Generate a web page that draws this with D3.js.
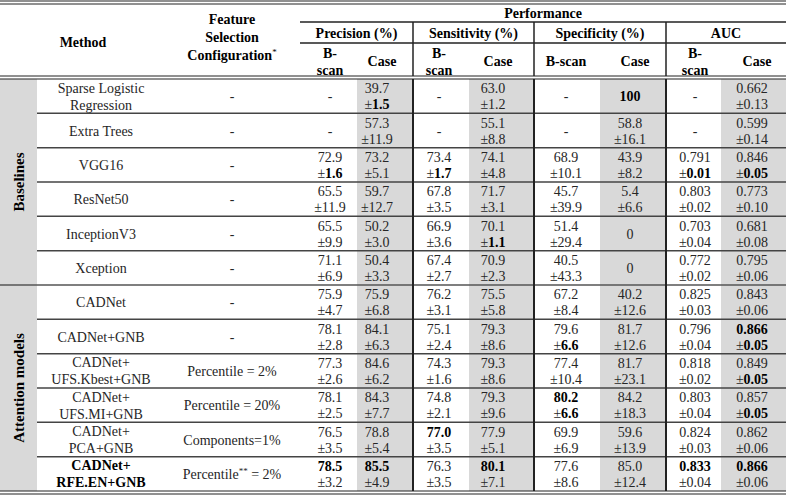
<!DOCTYPE html>
<html><head><meta charset="utf-8">
<script src="https://cdn.jsdelivr.net/npm/d3@7"></script>
<style>
body{margin:0;background:#fff}
svg{display:block}
svg text{font-family:'Liberation Serif','Tinos','DejaVu Serif','Noto Serif',serif;font-size:14px;fill:#262626}
svg text.b, svg tspan.b{font-weight:bold;fill:#000}
</style>
</head><body>
<svg id="c" width="786" height="495" font-family="Liberation Serif, DejaVu Serif, serif"></svg>
<script>
// ---------------- data ----------------
const methods = ["Sparse Logistic\nRegression","Extra Trees","VGG16","ResNet50","InceptionV3","Xception",
  "CADNet","CADNet+GNB","CADNet+\nUFS.Kbest+GNB","CADNet+\nUFS.MI+GNB","CADNet+\nPCA+GNB","CADNet+\nRFE.EN+GNB"];
const groupNames = ["Baselines","Attention models"];
const groupRows = [[0,5],[6,11]];
const featureConfig = ["-","-","-","-","-","-","-","-","Percentile = 2%","Percentile = 20%","Components=1%","Percentile** = 2%"];
const metricNames = ["Precision (%)","Sensitivity (%)","Specificity (%)","AUC"];
const subHeaders = ["B-\nscan","Case","B-\nscan","Case","B-scan","Case","B-\nscan","Case"];

const precB = [["-"],["-"],["72.9","1.6"],["65.5","11.9"],["65.5","9.9"],["71.1","6.9"],["75.9","4.7"],["78.1","2.8"],["77.3","2.6"],["78.1","2.5"],["76.5","3.5"],["78.5","3.2"]];
const precC = [["39.7","1.5"],["57.3","11.9"],["73.2","5.1"],["59.7","12.7"],["50.2","3.0"],["50.4","3.3"],["75.9","6.8"],["84.1","6.3"],["84.6","6.2"],["84.3","7.7"],["78.8","5.4"],["85.5","4.9"]];
const sensB = [["-"],["-"],["73.4","1.7"],["67.8","3.5"],["66.9","3.6"],["67.4","2.7"],["76.2","3.1"],["75.1","2.4"],["74.3","1.6"],["74.8","2.1"],["77.0","3.5"],["76.3","3.5"]];
const sensC = [["63.0","1.2"],["55.1","8.8"],["74.1","4.8"],["71.7","3.1"],["70.1","1.1"],["70.9","2.3"],["75.5","5.8"],["79.3","8.6"],["79.3","8.6"],["79.3","9.6"],["77.9","5.1"],["80.1","7.1"]];
const specB = [["-"],["-"],["68.9","10.1"],["45.7","39.9"],["51.4","29.4"],["40.5","43.3"],["67.2","8.4"],["79.6","6.6"],["77.4","10.4"],["80.2","6.6"],["69.9","6.9"],["77.6","8.6"]];
const specC = [["100"],["58.8","16.1"],["43.9","8.2"],["5.4","6.6"],["0"],["0"],["40.2","12.6"],["81.7","12.6"],["81.7","23.1"],["84.2","18.3"],["59.6","13.9"],["85.0","12.4"]];
const aucB = [["-"],["-"],["0.791","0.01"],["0.803","0.02"],["0.703","0.04"],["0.772","0.02"],["0.825","0.03"],["0.796","0.04"],["0.818","0.02"],["0.803","0.04"],["0.824","0.03"],["0.833","0.04"]];
const aucC = [["0.662","0.13"],["0.599","0.14"],["0.846","0.05"],["0.773","0.10"],["0.681","0.08"],["0.795","0.06"],["0.843","0.06"],["0.866","0.05"],["0.849","0.05"],["0.857","0.05"],["0.862","0.06"],["0.866","0.06"]];
// bold marks: column:row:part (m = mean, s = sd)
const boldMarks = ["precC:0:s","precB:2:s","precB:11:m","precC:11:m",
  "sensB:2:s","sensC:4:s","sensB:10:m","sensC:11:m",
  "specC:0:m","specB:7:s","specB:9:m","specB:9:s",
  "aucB:2:s","aucC:2:s","aucC:7:m","aucC:7:s","aucC:8:s","aucC:9:s","aucB:11:m","aucC:11:m"];
const boldMethods = [11];

// ---------------- layout ----------------
const W = 786, H = 495;
const FONT = "'Liberation Serif','Tinos','DejaVu Serif',serif";
const colKeys = ["precB","precC","sensB","sensC","specB","specC","aucB","aucC"];
const colData = {precB,precC,sensB,sensC,specB,specC,aucB,aucC};
const colCenter = d3.scaleOrdinal().domain(colKeys).range([330,377,439,493,566,630,695,752]);
const caseShade = d3.scaleOrdinal().domain(["precC","sensC","specC","aucC"]).range([[357,413],[469,534],[600,666],[721,786]]);
const metricSpan = d3.scaleOrdinal().domain(metricNames).range([[300,413],[413,534],[534,666],[666,786]]);
const y = d3.scaleBand().domain(d3.range(methods.length)).range([79, 491]);
const groupX = [0, 37], methodX = 101, featX = 232;
const bold = new Set(boldMarks);

const svg = d3.select("#c");
const gray = "#d9d9d9";

function T(sel){ return sel.append("text").style("font-family",FONT).style("font-size","14px"); }

// shading
svg.append("rect").attr("x",groupX[0]).attr("y",y(0)).attr("width",groupX[1]-groupX[0]).attr("height",y.range()[1]-y(0)).attr("fill",gray);
Object.keys(colData).filter(k=>k.endsWith("C")).forEach(k=>{
  const [a,b] = caseShade(k);
  svg.append("rect").attr("x",a).attr("y",y(0)).attr("width",b-a).attr("height",y.range()[1]-y(0)).attr("fill",gray);
});

// text with superscript asterisks
function richText(sel, str, x, yy, cls){
  const t = T(sel).attr("x",x).attr("y",yy).attr("text-anchor","middle");
  if(cls) t.attr("class",cls);
  let sup = false;
  str.split(/(\*+)/).forEach(p=>{
    if(!p) return;
    if(/^\*+$/.test(p)){ t.append("tspan").style("font-size","9px").style("font-weight","normal").attr("dy",-5).text(p); sup = true; }
    else { t.append("tspan").attr("dy", sup ? 5 : 0).text(p); sup = false; }
  });
  return t;
}
function multiLine(sel, str, x, yc, cls, lh){
  const lines = str.split("\n");
  lines.forEach((l,i)=>{
    const yy = yc + (i-(lines.length-1)/2)*lh + 5;
    richText(sel, l, x, yy, cls);
  });
}

// header
const hb = "b";
multiLine(svg, "Method", 83, 42, hb, 18);
multiLine(svg, "Feature\nSelection\nConfiguration*", featX, 37, hb, 18);
T(svg).attr("class",hb).attr("x",543).attr("y",18).attr("text-anchor","middle").text("Performance");
metricNames.forEach(m=>{
  const [a,b] = metricSpan(m);
  T(svg).attr("class",hb).attr("x",(a+b)/2).attr("y",38).attr("text-anchor","middle").text(m);
});
colKeys.forEach((k,i)=>{
  multiLine(svg, subHeaders[i], colCenter(k) + (subHeaders[i]==="Case"?5:0), 61, hb, 17);
});

// group labels
groupNames.forEach((g,i)=>{
  const [r0,r1] = groupRows[i];
  const cy = (y(r0) + y(r1) + y.bandwidth())/2;
  const cx = (groupX[0]+groupX[1])/2;
  T(svg).attr("class","b").attr("transform",`translate(${cx+5},${cy}) rotate(-90)`)
    .attr("text-anchor","middle").style("font-size","15px").text(g);
});

// body rows
methods.forEach((m,r)=>{
  const yc = y(r) + y.bandwidth()/2;
  multiLine(svg, m, methodX, yc, boldMethods.includes(r)?"b":null, 17);
  multiLine(svg, featureConfig[r], featX, yc, null, 17);
  colKeys.forEach(k=>{
    const cell = colData[k][r];
    const x = colCenter(k);
    if(cell.length===1){
      T(svg).attr("x",x).attr("y",yc+5).attr("text-anchor","middle")
        .attr("class", bold.has(`${k}:${r}:m`)?"b":null).text(cell[0]);
    } else {
      T(svg).attr("x",x).attr("y",yc-3).attr("text-anchor","middle")
        .attr("class", bold.has(`${k}:${r}:m`)?"b":null).text(cell[0]);
      const t = T(svg).attr("x",x).attr("y",yc+13).attr("text-anchor","middle");
      t.append("tspan").text("±");
      t.append("tspan").attr("class", bold.has(`${k}:${r}:s`)?"b":null).text(cell[1]);
    }
  });
});

// rules
const line = (x1,y1,x2,y2,w,c)=>svg.append("line").attr("x1",x1).attr("y1",y1).attr("x2",x2).attr("y2",y2)
  .attr("stroke",c||"#222").attr("stroke-width",w||1);
line(0,1,W,1,1.2); line(0,4,W,4,1.2);
line(300,22,W,22,1.3); line(300,43,W,43,1.3);
line(0,76,W,76,1.2); line(0,79,W,79,1.2);
line(0,491,W,491,1.2); line(0,494,W,494,1.2);
d3.range(1,methods.length).forEach(r=>{
  const yy = y(r);
  if(r===6) line(0,yy,W,yy,1.5,"#555");
  else line(groupX[1],yy,W,yy,1.5,"#444");
});
[413,534,666].forEach(xx=>{ line(xx,22,xx,76,1.5); line(xx,79,xx,491,2,"#222"); });
</script>
</body></html>
